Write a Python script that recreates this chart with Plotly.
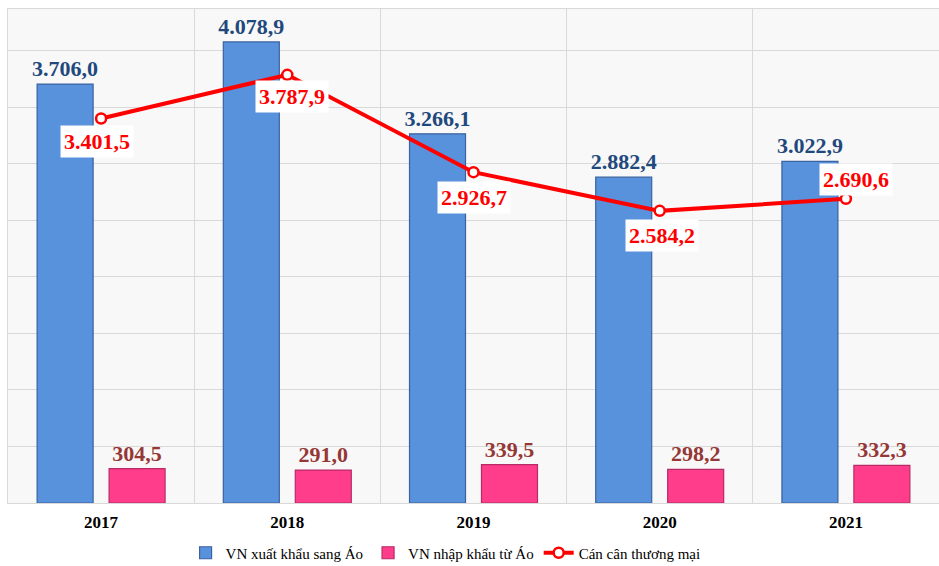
import plotly.graph_objects as go

years = ["2017", "2018", "2019", "2020", "2021"]
exports = [3706.0, 4078.9, 3266.1, 2882.4, 3022.9]
imports = [304.5, 291.0, 339.5, 298.2, 332.3]
balance = [3401.5, 3787.9, 2926.7, 2584.2, 2690.6]

export_labels = ["3.706,0", "4.078,9", "3.266,1", "2.882,4", "3.022,9"]
import_labels = ["304,5", "291,0", "339,5", "298,2", "332,3"]
balance_labels = ["3.401,5", "3.787,9", "2.926,7", "2.584,2", "2.690,6"]

# label offsets for the balance line (pixels)
bal_xshift = [-4, 5, 0, 2, 10]
bal_yshift = [-23, -22, -25, -25, 19]

SERIF = "Liberation Serif"

fig = go.Figure()
fig.add_trace(go.Bar(
    x=years, y=exports, name="VN xuất khẩu sang Áo",
    marker=dict(color="#5891DC", line=dict(color="#3A62A0", width=1.2)),
    text=export_labels, textposition="outside", cliponaxis=False,
    constraintext="none", texttemplate="<b>%{text}</b>",
    textfont=dict(family=SERIF, size=22, color="#1F497D"),
))
fig.add_trace(go.Bar(
    x=years, y=imports, name="VN nhập khẩu từ Áo",
    marker=dict(color="#FF3D8B", line=dict(color="#B82A66", width=1.2)),
    text=import_labels, textposition="outside", cliponaxis=False,
    constraintext="none", texttemplate="<b>%{text}</b>",
    textfont=dict(family=SERIF, size=22, color="#953735"),
))
fig.add_trace(go.Scatter(
    x=years, y=balance, name="Cán cân thương mại", mode="lines+markers",
    line=dict(color="#FF0000", width=4),
    marker=dict(symbol="circle", size=10, color="white",
                line=dict(color="#FF0000", width=2.5)),
))

for i, (v, lab, dx, dy) in enumerate(zip(balance, balance_labels, bal_xshift, bal_yshift)):
    fig.add_annotation(
        x=i, y=v, xref="x", yref="y", text="<b>%s</b>" % lab, showarrow=False,
        xshift=dx, yshift=dy, bgcolor="white", borderpad=3,
        font=dict(family=SERIF, size=22, color="#FF0000"),
    )

fig.update_layout(
    width=939, height=566,
    margin=dict(l=8, r=0, t=9, b=63, autoexpand=False),
    paper_bgcolor="white", plot_bgcolor="#F8F8F8",
    barmode="group", bargap=0.227, bargroupgap=0.222,
    showlegend=True,
    legend=dict(orientation="h", x=0.47, xanchor="center",
                yref="container", y=0.023, yanchor="middle",
                font=dict(family=SERIF, size=15, color="black"),
                itemwidth=30, tracegroupgap=0),
    xaxis=dict(type="category", categoryorder="array", categoryarray=years,
               tickson="boundaries", showgrid=True, automargin=False,
               gridcolor="#D9D9D9", gridwidth=1, ticks="",
               showline=True, linecolor="#D9D9D9", mirror=True,
               tickangle=0, ticklabelstandoff=4,
               tickfont=dict(family=SERIF, size=17, color="black"),
               tickprefix="<b>", ticksuffix="</b>"),
    yaxis=dict(range=[0, 4370], dtick=500, showgrid=True, gridcolor="#D9D9D9",
               gridwidth=1, showticklabels=False, zeroline=False, automargin=False,
               showline=True, linecolor="#D9D9D9", mirror=True),
)

fig.write_html("out.html", config={"displayModeBar": False},
               post_script="document.body.style.margin='0';document.body.style.padding='0';")
